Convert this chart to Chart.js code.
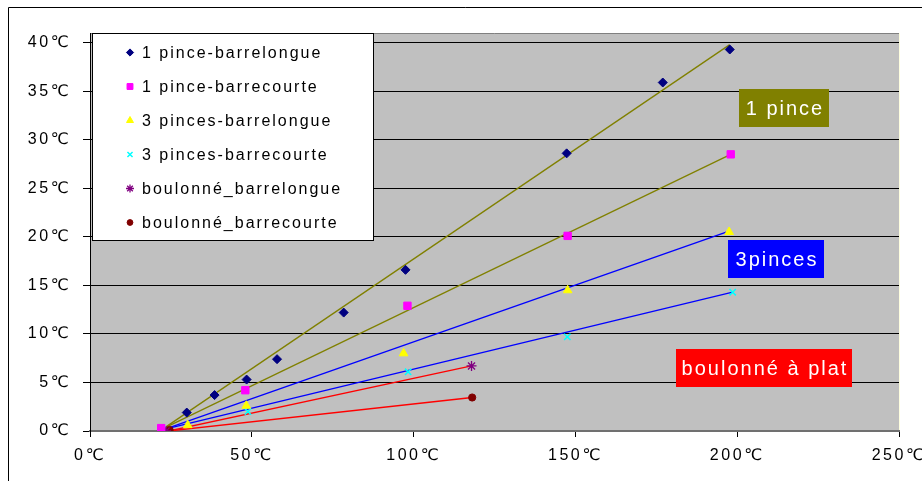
<!DOCTYPE html>
<html><head><meta charset="utf-8">
<script src="https://cdn.jsdelivr.net/npm/chart.js@4.4.0/dist/chart.umd.min.js"></script>
<style>html,body{margin:0;padding:0;background:#fff;overflow:hidden}canvas{display:block}</style>
</head><body>
<canvas id="c" width="922" height="481"></canvas>
<script>
// ---- data ----
const seriesNames = ['1 pince-barrelongue','1 pince-barrecourte','3 pinces-barrelongue','3 pinces-barrecourte','boulonné_barrelongue','boulonné_barrecourte'];
const s1x = [29.9, 38.5, 48.4, 57.8, 78.4, 97.5, 147.3, 177.0, 197.7];
const s1y = [1.9, 3.7, 5.3, 7.4, 12.2, 16.6, 28.6, 35.9, 39.3];
const s2x = [22.0, 48.0, 98.1, 147.6, 198.0];
const s2y = [0.3, 4.2, 12.9, 20.1, 28.5];
const s3x = [30.2, 48.3, 96.9, 147.6, 197.5];
const s3y = [0.6, 2.6, 8.0, 14.5, 20.5];
const s4x = [22.3, 48.8, 98.3, 147.5, 198.6];
const s4y = [0.2, 2.0, 6.1, 9.7, 14.3];
const s5x = [23.5, 117.9];
const s5y = [0.0, 6.7];
const s6x = [24.6, 118.1];
const s6y = [0.1, 3.45];
// straight trend lines (start, end)
const t1x = [22.9, 197.7], t1y = [0.3, 39.8];
const t2x = [22.9, 198.0], t2y = [0.3, 28.5];
const t3x = [23.2, 197.5], t3y = [0.2, 20.6];
const t4x = [23.2, 198.6], t4y = [0.2, 14.3];
const t5x = [24.4, 117.9], t5y = [0.0, 6.7];
const t6x = [24.4, 118.1], t6y = [0.0, 3.45];
const xTicks = [0, 50, 100, 150, 200, 250];
const xTickLabels = ['0℃','50℃','100℃','150℃','200℃','250℃'];
const yTicks = [0, 5, 10, 15, 20, 25, 30, 35, 40];
const yTickLabels = ['0℃','5℃','10℃','15℃','20℃','25℃','30℃','35℃','40℃'];
const noteTexts = ['1 pince', '3pinces', 'boulonné à plat'];

// ---- build ----
const zip = (xs, ys) => xs.map((x, i) => ({x, y: ys[i]}));
const FONT = '"Liberation Sans", Arial, "DejaVu Sans", sans-serif';

const markerStyles = [
  {color:'#000080', style:'rectRot', r:4.5, bw:1},
  {color:'#FF00FF', style:'rect', r:5.2, bw:1},
  {color:'#FFFF00', style:'triangle', r:5, bw:1},
  {color:'#00FFFF', style:'crossRot', r:4.5, bw:1.5},
  {color:'#800080', style:'star', r:5, bw:1.3},
  {color:'#800000', style:'circle', r:3.6, bw:1}
];
const seriesData = [zip(s1x,s1y), zip(s2x,s2y), zip(s3x,s3y), zip(s4x,s4y), zip(s5x,s5y), zip(s6x,s6y)];
const trendData = [zip(t1x,t1y), zip(t2x,t2y), zip(t3x,t3y), zip(t4x,t4y), zip(t5x,t5y), zip(t6x,t6y)];
const trendColors = ['#808000','#808000','#0000FF','#0000FF','#FF0000','#FF0000'];

const datasets = [];
seriesData.forEach((d, i) => {
  const m = markerStyles[i];
  datasets.push({label: seriesNames[i], data: d, showLine: false, order: 0,
    pointStyle: m.style, pointRadius: m.r, pointHoverRadius: m.r,
    backgroundColor: m.color, borderColor: m.color, pointBorderWidth: m.bw});
});
trendData.forEach((d, i) => {
  datasets.push({label: 'trend' + i, data: d, showLine: true, order: 1,
    pointRadius: 0, borderColor: trendColors[i], borderWidth: 1.3, fill: false});
});

const bgPlugin = {
  id: 'bg',
  beforeDraw(chart) {
    const ctx = chart.ctx, a = chart.chartArea;
    ctx.save();
    ctx.fillStyle = '#fff'; ctx.fillRect(0, 0, chart.width, chart.height);
    ctx.strokeStyle = '#000'; ctx.lineWidth = 1;
    ctx.beginPath(); ctx.moveTo(8.5, chart.height); ctx.lineTo(8.5, 7.5); ctx.lineTo(chart.width, 7.5); ctx.stroke();
    ctx.fillStyle = '#C0C0C0'; ctx.fillRect(a.left, a.top, a.right - a.left, a.bottom - a.top);
    ctx.strokeStyle = '#808080';
    ctx.beginPath(); ctx.moveTo(a.left, a.top + 0.5); ctx.lineTo(a.right, a.top + 0.5); ctx.stroke();
    ctx.strokeStyle = '#FFFFE0';
    ctx.beginPath(); ctx.moveTo(a.right + 0.5, a.top); ctx.lineTo(a.right + 0.5, a.bottom); ctx.stroke();
    ctx.restore();
    ctx.letterSpacing = '2.5px';
  }
};

function drawMarker(ctx, m, x, y, scale) {
  ctx.fillStyle = m.color; ctx.strokeStyle = m.color;
  const opts = {pointStyle: m.style, radius: m.r * scale, rotation: 0, borderWidth: m.bw};
  ctx.lineWidth = m.bw;
  if (Chart.helpers && Chart.helpers.drawPoint) {
    Chart.helpers.drawPoint(ctx, opts, x, y);
  } else {
    ctx.beginPath(); ctx.arc(x, y, m.r * scale, 0, Math.PI * 2); ctx.fill();
  }
}

const overlayPlugin = {
  id: 'overlay',
  afterDraw(chart) {
    const ctx = chart.ctx;
    // annotation boxes
    const boxes = [
      {x: 739, y: 89, w: 90, h: 38, bg: '#808000'},
      {x: 728, y: 240, w: 96, h: 38, bg: '#0000FF'},
      {x: 676, y: 349, w: 176, h: 38, bg: '#FF0000'}
    ];
    ctx.save();
    ctx.font = '20px ' + FONT;
    ctx.letterSpacing = '2px';
    ctx.textAlign = 'center'; ctx.textBaseline = 'middle';
    boxes.forEach((b, i) => {
      ctx.fillStyle = b.bg; ctx.fillRect(b.x, b.y, b.w, b.h);
      ctx.fillStyle = '#fff';
      ctx.fillText(noteTexts[i], b.x + b.w / 2 + 1, b.y + b.h / 2 + 1);
    });
    ctx.restore();
    // legend
    ctx.save();
    ctx.fillStyle = '#fff'; ctx.fillRect(92, 33, 282, 208);
    ctx.strokeStyle = '#000'; ctx.lineWidth = 1; ctx.strokeRect(92.5, 33.5, 281, 207);
    ctx.font = '16px ' + FONT;
    ctx.letterSpacing = '2px';
    ctx.textAlign = 'left'; ctx.textBaseline = 'middle';
    seriesNames.forEach((name, i) => {
      const y = 52.5 + i * 34;
      drawMarker(ctx, markerStyles[i], 130, y, 0.8);
      ctx.fillStyle = '#000';
      ctx.fillText(name, 142, y + 1);
    });
    ctx.restore();
  }
};

new Chart(document.getElementById('c'), {
  type: 'scatter',
  data: {datasets},
  options: {
    responsive: false, animation: false, devicePixelRatio: 1,
    layout: {padding: {left: 0, top: 33, right: 23, bottom: 0}},
    plugins: {legend: {display: false}, tooltip: {enabled: false}},
    scales: {
      x: {
        type: 'linear', min: 0, max: 250,
        afterBuildTicks: s => { s.ticks = xTicks.map(v => ({value: v})); },
        afterFit: s => { s.height = 50; s.paddingLeft = 0; s.paddingRight = 0; },
        ticks: {callback: v => xTickLabels[xTicks.indexOf(v)], color: '#000', font: {family: FONT, size: 16}, padding: 9, maxRotation: 0, autoSkip: false},
        grid: {drawOnChartArea: false, drawTicks: true, tickLength: 6, color: '#000'},
        border: {color: '#707070', width: 2}
      },
      y: {
        type: 'linear', min: 0, max: 41,
        afterBuildTicks: s => { s.ticks = yTicks.map(v => ({value: v})); },
        afterFit: s => { s.width = 90; s.paddingTop = 0; s.paddingBottom = 0; },
        ticks: {callback: v => yTickLabels[yTicks.indexOf(v)], color: '#000', font: {family: FONT, size: 16}, padding: 12, autoSkip: false},
        grid: {color: '#000', lineWidth: 1, drawTicks: true, tickLength: 7},
        border: {color: '#000', width: 1}
      }
    }
  },
  plugins: [bgPlugin, overlayPlugin]
});
</script>
</body></html>
